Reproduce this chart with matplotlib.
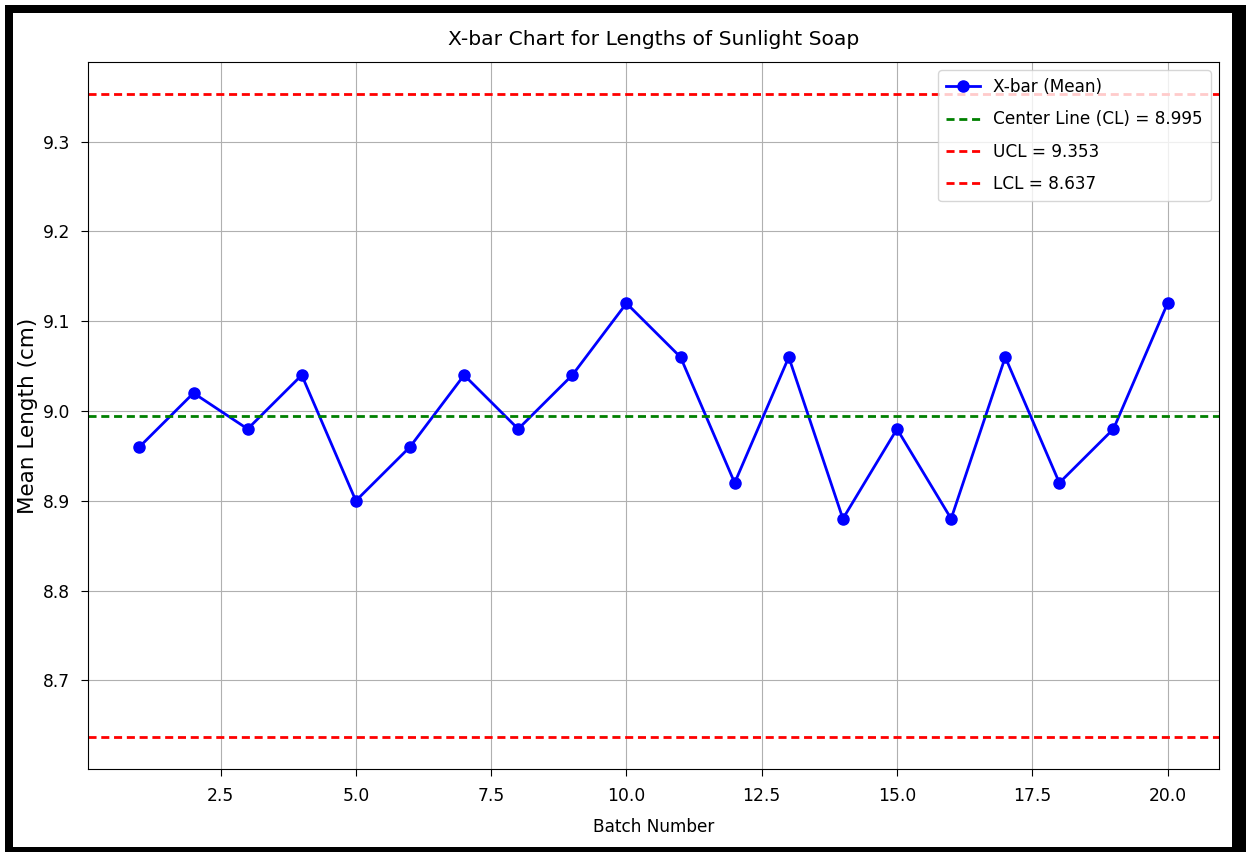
import matplotlib
matplotlib.use("Agg")
import matplotlib.pyplot as plt
from matplotlib.patches import Rectangle

batches = list(range(1, 21))
xbar = [8.96, 9.02, 8.98, 9.04, 8.90, 8.96, 9.04, 8.98, 9.04, 9.12,
        9.06, 8.92, 9.06, 8.88, 8.98, 8.88, 9.06, 8.92, 8.98, 9.12]
cl = 8.995
ucl = 9.353
lcl = 8.637

plt.rcParams['font.family'] = ['DejaVu Sans']

W, H = 1246, 852
fig = plt.figure(figsize=(W / 100, H / 100), dpi=100)
ax = fig.add_axes([88 / W, 1 - 769 / H, (1219 - 88) / W, (769 - 62) / H])

dash = (0, (2.9, 1.7))
ax.plot(batches, xbar, marker='o', color='blue', lw=2, markersize=8, label='X-bar (Mean)')
ax.axhline(cl, color='green', ls=dash, lw=2, label=f'Center Line (CL) = {cl:.3f}')
ax.axhline(ucl, color='red', ls=dash, lw=2, label=f'UCL = {ucl:.3f}')
ax.axhline(lcl, color='red', ls=dash, lw=2, label=f'LCL = {lcl:.3f}')

ax.set_title('X-bar Chart for Lengths of Sunlight Soap', fontsize=14.6, pad=12)
ax.set_xlabel('Batch Number', fontsize=12.2, labelpad=9)
ax.set_ylabel('Mean Length (cm)', fontsize=15.5, labelpad=3)
ax.tick_params(labelsize=12.3, length=5, pad=8)
ax.grid(True)
ax.legend(loc='upper right', fontsize=12.2, borderpad=0.45, labelspacing=0.85,
          handlelength=2.0)

# black screenshot frame
def px_rect(x0, y0, x1, y1):
    fig.patches.append(Rectangle((x0 / W, 1 - y1 / H), (x1 - x0) / W, (y1 - y0) / H,
                                 transform=fig.transFigure, facecolor='black',
                                 edgecolor='none', zorder=10))

px_rect(4.5, 5, 1246, 12.7)
px_rect(4.5, 5, 13, 852)
px_rect(1232, 5, 1246, 852)
px_rect(4.5, 847, 1246, 852)

fig.savefig('out.png', dpi=100)
